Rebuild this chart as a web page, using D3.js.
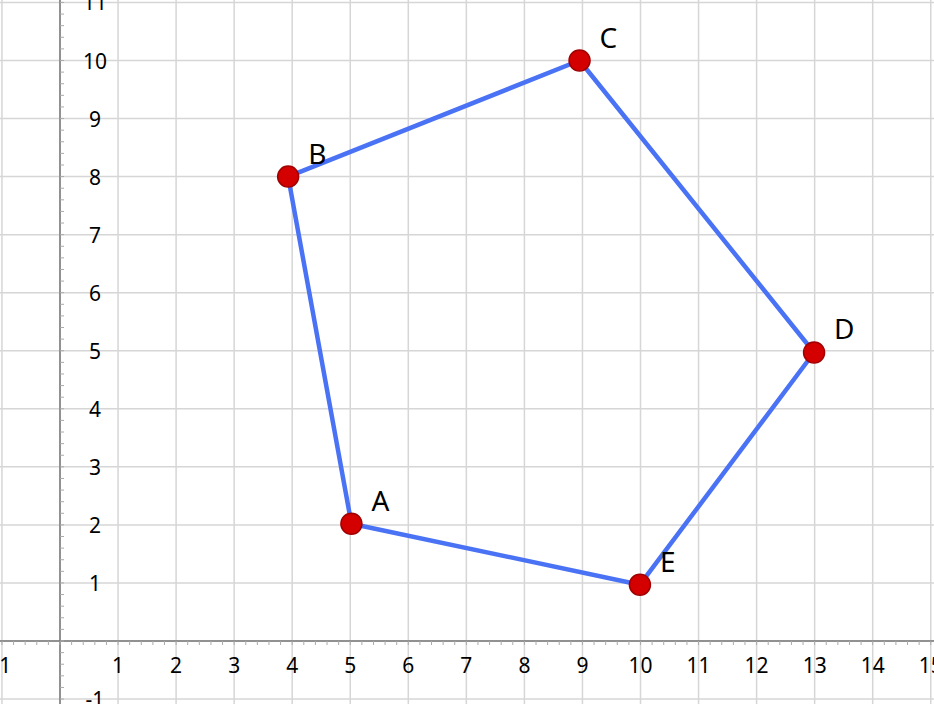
<!DOCTYPE html>
<html><head><meta charset="utf-8">
<script src="https://cdn.jsdelivr.net/npm/d3@7"></script>
<style>body{margin:0;background:#fff}svg{display:block}</style>
</head><body><div id="chart"></div>
<script>
const names = ["A", "B", "C", "D", "E"];
const xs = [5.02, 3.93, 8.95, 12.99, 9.99];
const ys = [2.02, 8.0, 10.0, 4.97, 0.97];
const xTicks = [-1, 1, 2, 3, 4, 5, 6, 7, 8, 9, 10, 11, 12, 13, 14, 15];
const yTicks = [-1, 1, 2, 3, 4, 5, 6, 7, 8, 9, 10, 11];

const width = 934, height = 704;
const u = 58.05;
const x = d3.scaleLinear().domain([0, 1]).range([60, 60 + u]);
const y = d3.scaleLinear().domain([0, 1]).range([641, 641 - u]);

const svg = d3.select("#chart").append("svg")
    .attr("width", width).attr("height", height);

// grid
svg.append("g").selectAll("line").data(d3.range(-1, 17))
    .join("line")
    .attr("x1", d => x(d)).attr("x2", d => x(d))
    .attr("y1", 0).attr("y2", height)
    .attr("stroke", "#d6d6d6").attr("stroke-width", 1.5);
svg.append("g").selectAll("line").data(d3.range(-1, 13))
    .join("line")
    .attr("y1", d => y(d)).attr("y2", d => y(d))
    .attr("x1", 0).attr("x2", width)
    .attr("stroke", "#d6d6d6").attr("stroke-width", 1.5);

// axes
svg.append("line").attr("x1", 0).attr("x2", width).attr("y1", y(0)).attr("y2", y(0))
    .attr("stroke", "#777").attr("stroke-width", 1.5);
svg.append("line").attr("x1", x(0)).attr("x2", x(0)).attr("y1", 0).attr("y2", height)
    .attr("stroke", "#777").attr("stroke-width", 1.5);

// minor ticks
svg.append("g").selectAll("line").data(d3.range(-5, 81).map(d => d / 5))
    .join("line")
    .attr("x1", d => x(d)).attr("x2", d => x(d))
    .attr("y1", y(0)).attr("y2", y(0) + 4)
    .attr("stroke", "#aaa").attr("stroke-width", 1);
svg.append("g").selectAll("line").data(d3.range(-5, 60).map(d => d / 5))
    .join("line")
    .attr("y1", d => y(d)).attr("y2", d => y(d))
    .attr("x1", x(0)).attr("x2", x(0) + 4)
    .attr("stroke", "#aaa").attr("stroke-width", 1);

// tick labels
svg.append("g").selectAll("text").data(xTicks)
    .join("text")
    .attr("x", d => x(d)).attr("y", y(0) + 32)
    .attr("text-anchor", "middle")
    .attr("font-family", "Noto Sans").attr("font-size", 21)
    .text(d => d < 0 ? "-" + Math.abs(d) : d);
svg.append("g").selectAll("text").data(yTicks)
    .join("text")
    .attr("x", x(0) + 35).attr("y", d => y(d) + 8)
    .attr("text-anchor", "middle")
    .attr("font-family", "Noto Sans").attr("font-size", 21)
    .text(d => d < 0 ? "-" + Math.abs(d) : d);

// polygon
const pts = names.map((n, i) => ({ n, x: xs[i], y: ys[i] }));
svg.append("path")
    .attr("d", d3.line().x(d => x(d.x)).y(d => y(d.y))(pts) + "Z")
    .attr("fill", "none").attr("stroke", "#4a72f5").attr("stroke-width", 4.5)
    .attr("stroke-linejoin", "round");

svg.append("g").selectAll("circle").data(pts)
    .join("circle")
    .attr("cx", d => x(d.x)).attr("cy", d => y(d.y)).attr("r", 10.5)
    .attr("fill", "#d40000").attr("stroke", "#a00000").attr("stroke-width", 1.5);

svg.append("g").selectAll("text").data(pts)
    .join("text")
    .attr("x", d => x(d.x) + 20).attr("y", d => y(d.y) - 13)
    .attr("font-family", "Noto Sans").attr("font-size", 28)
    .text(d => d.n);
</script></body></html>
